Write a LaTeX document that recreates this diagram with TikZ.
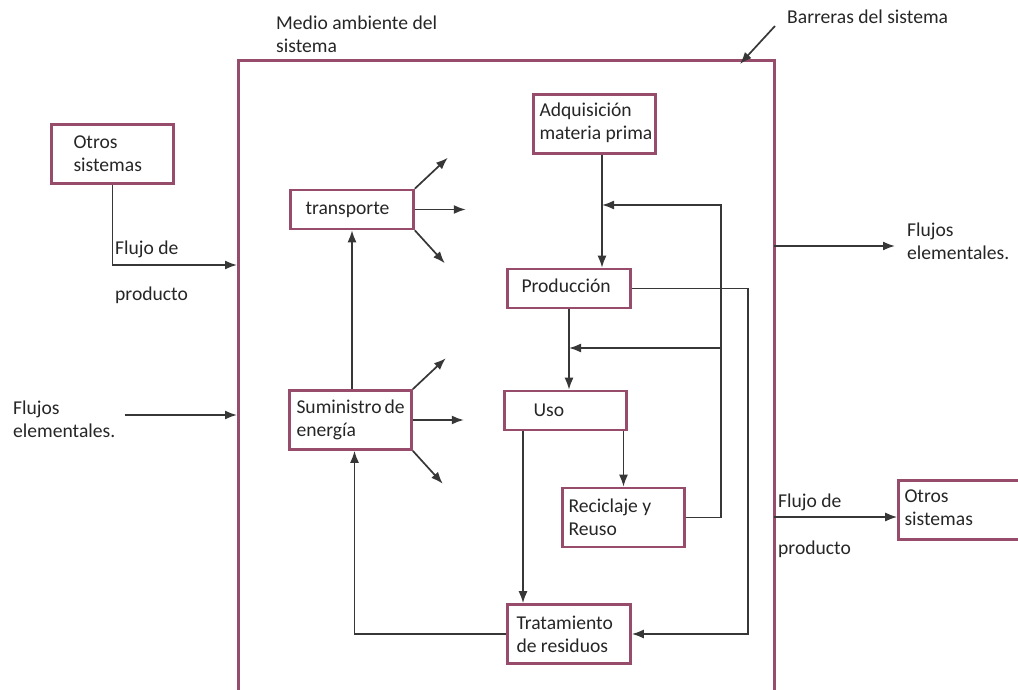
\documentclass[tikz,border=0pt]{standalone}
\usepackage{fontspec}
\setmainfont{Carlito}
\usetikzlibrary{arrows.meta}

\definecolor{marco}{RGB}{150,76,106}
\definecolor{linea}{RGB}{55,55,55}

\tikzset{
	caja/.style={draw=marco, line width=2.6pt, align=flush left, inner ysep=0pt, minimum height=59pt},
	texto/.style={align=left, inner sep=0pt, anchor=west},
	flecha/.style={draw=linea, line width=1.7pt, -{Latex[length=12pt,width=9pt]}},
	every node/.style={font=\fontsize{19.6}{23}\selectfont, text=black!85}
}

\begin{document}
\begin{tikzpicture}[x=1pt,y=-1pt]
		\useasboundingbox (0,0) rectangle (1018,690);

		% barreras del sistema
		\coordinate (bNO) at (238,61);
		\coordinate (bNE) at (774,61);
		\draw[marco, line width=3pt] (bNO |- 0,700) -- (bNO) -- (bNE) -- (bNE |- 0,700);

		\node[caja, inner xsep=22pt, text width=78pt] (otrosizq) at (112.5,154) {Otros\\sistemas};
		\node[caja, inner xsep=15pt, text width=93pt, minimum height=39pt] (transp) at (352,209.5) {transporte};
		\node[caja, inner xsep=6pt, text width=110pt] (adq) at (594.5,124) {\raisebox{6pt}{Adquisición}\\\raisebox{6pt}{materia~prima}};
		\node[caja, inner xsep=14pt, text width=95pt, minimum height=39pt] (prod) at (569,288.5) {\raisebox{5pt}{Producción}};
		\node[caja, inner xsep=7pt, text width=108pt] (sumin) at (350.5,420) {Suministro~de\\energía};
		\node[caja, inner xsep=29pt, text width=64pt, minimum height=39pt] (uso) at (565.5,410.5) {Uso};
		\node[caja, inner xsep=6pt, text width=110pt] (recic) at (623.5,517.5) {Reciclaje~y\\Reuso};
		\node[caja, inner xsep=9pt, text width=105pt] (trat) at (569,634) {Tratamiento\\de~residuos};
		\node[caja, inner xsep=6pt, text width=110pt] (otrosder) at (959.5,510) {\raisebox{5pt}{Otros}\\\raisebox{5pt}{sistemas}};

		\node[texto] (medio) at (276,34) {Medio ambiente del\\sistema};
		\node[texto] (barreras) at (787,17) {Barreras del sistema};
		\node[texto] (flujoizq) at (115,249) {Flujo de};
		\node[texto] (prodizq) at (115,295) {producto};
		\node[texto] (elemizq) at (13,419) {Flujos\\elementales.};
		\node[texto] (elemder) at (907,241) {Flujos\\elementales.};
		\node[texto] (flujoder) at (778,502) {Flujo de};
		\node[texto] (prodder) at (778,549) {producto};

		\coordinate (entA) at (237,265);
		\coordinate (entB) at (237,415);
		\coordinate (salC) at (774,246);
		\coordinate (salD) at (774,517);
		\coordinate (ejeA) at (602,0);
		\coordinate (retorno) at (721,205);
		\coordinate (rama) at (721,348);
		\coordinate (bajada) at (748,400);

		% flujos que cruzan la barrera
		\draw[flecha] (otrosizq.south) |- (entA);
		\draw[flecha] ([xshift=9pt,yshift=4pt]elemizq.east) -- (entB);
		\draw[flecha] ([xshift=-12pt,yshift=-9pt]barreras.west) -- ([xshift=-34pt,yshift=-3pt]bNE);
		\draw[flecha] (salC) -- ([xshift=-12pt]elemder.west |- salC);
		\draw[flecha] (salD) -- (salD -| otrosder.west);

		\foreach \n in {transp,sumin}{
			\draw[flecha] (\n.east) -- +(51,0);
			\draw[flecha] (\n.north east) -- +(33,-31);
			\draw[flecha] (\n.south east) -- +(30,33);
		}

		\draw[flecha] (transp.south |- sumin.north) -- (transp.south);
		\draw[flecha] (trat.west) -| ([xshift=4pt]sumin.south);
		\draw[flecha] (ejeA |- adq.south) -- (ejeA |- prod.north);
		\draw[flecha] (recic.east) -| (retorno) -- (retorno -| ejeA);
		\draw[flecha] (rama) -- (rama -| prod.south);
		\draw[flecha] (prod.south) -- (prod.south |- uso.north);
		\draw[flecha] (prod.east) -| (bajada) |- (trat.east);
		\draw[flecha] ([xshift=-42.5pt]uso.south) -- ([xshift=-42.5pt]uso.south |- trat.north);
		\draw[flecha] (recic.north |- uso.south) -- (recic.north);
	\end{tikzpicture}
\end{document}
